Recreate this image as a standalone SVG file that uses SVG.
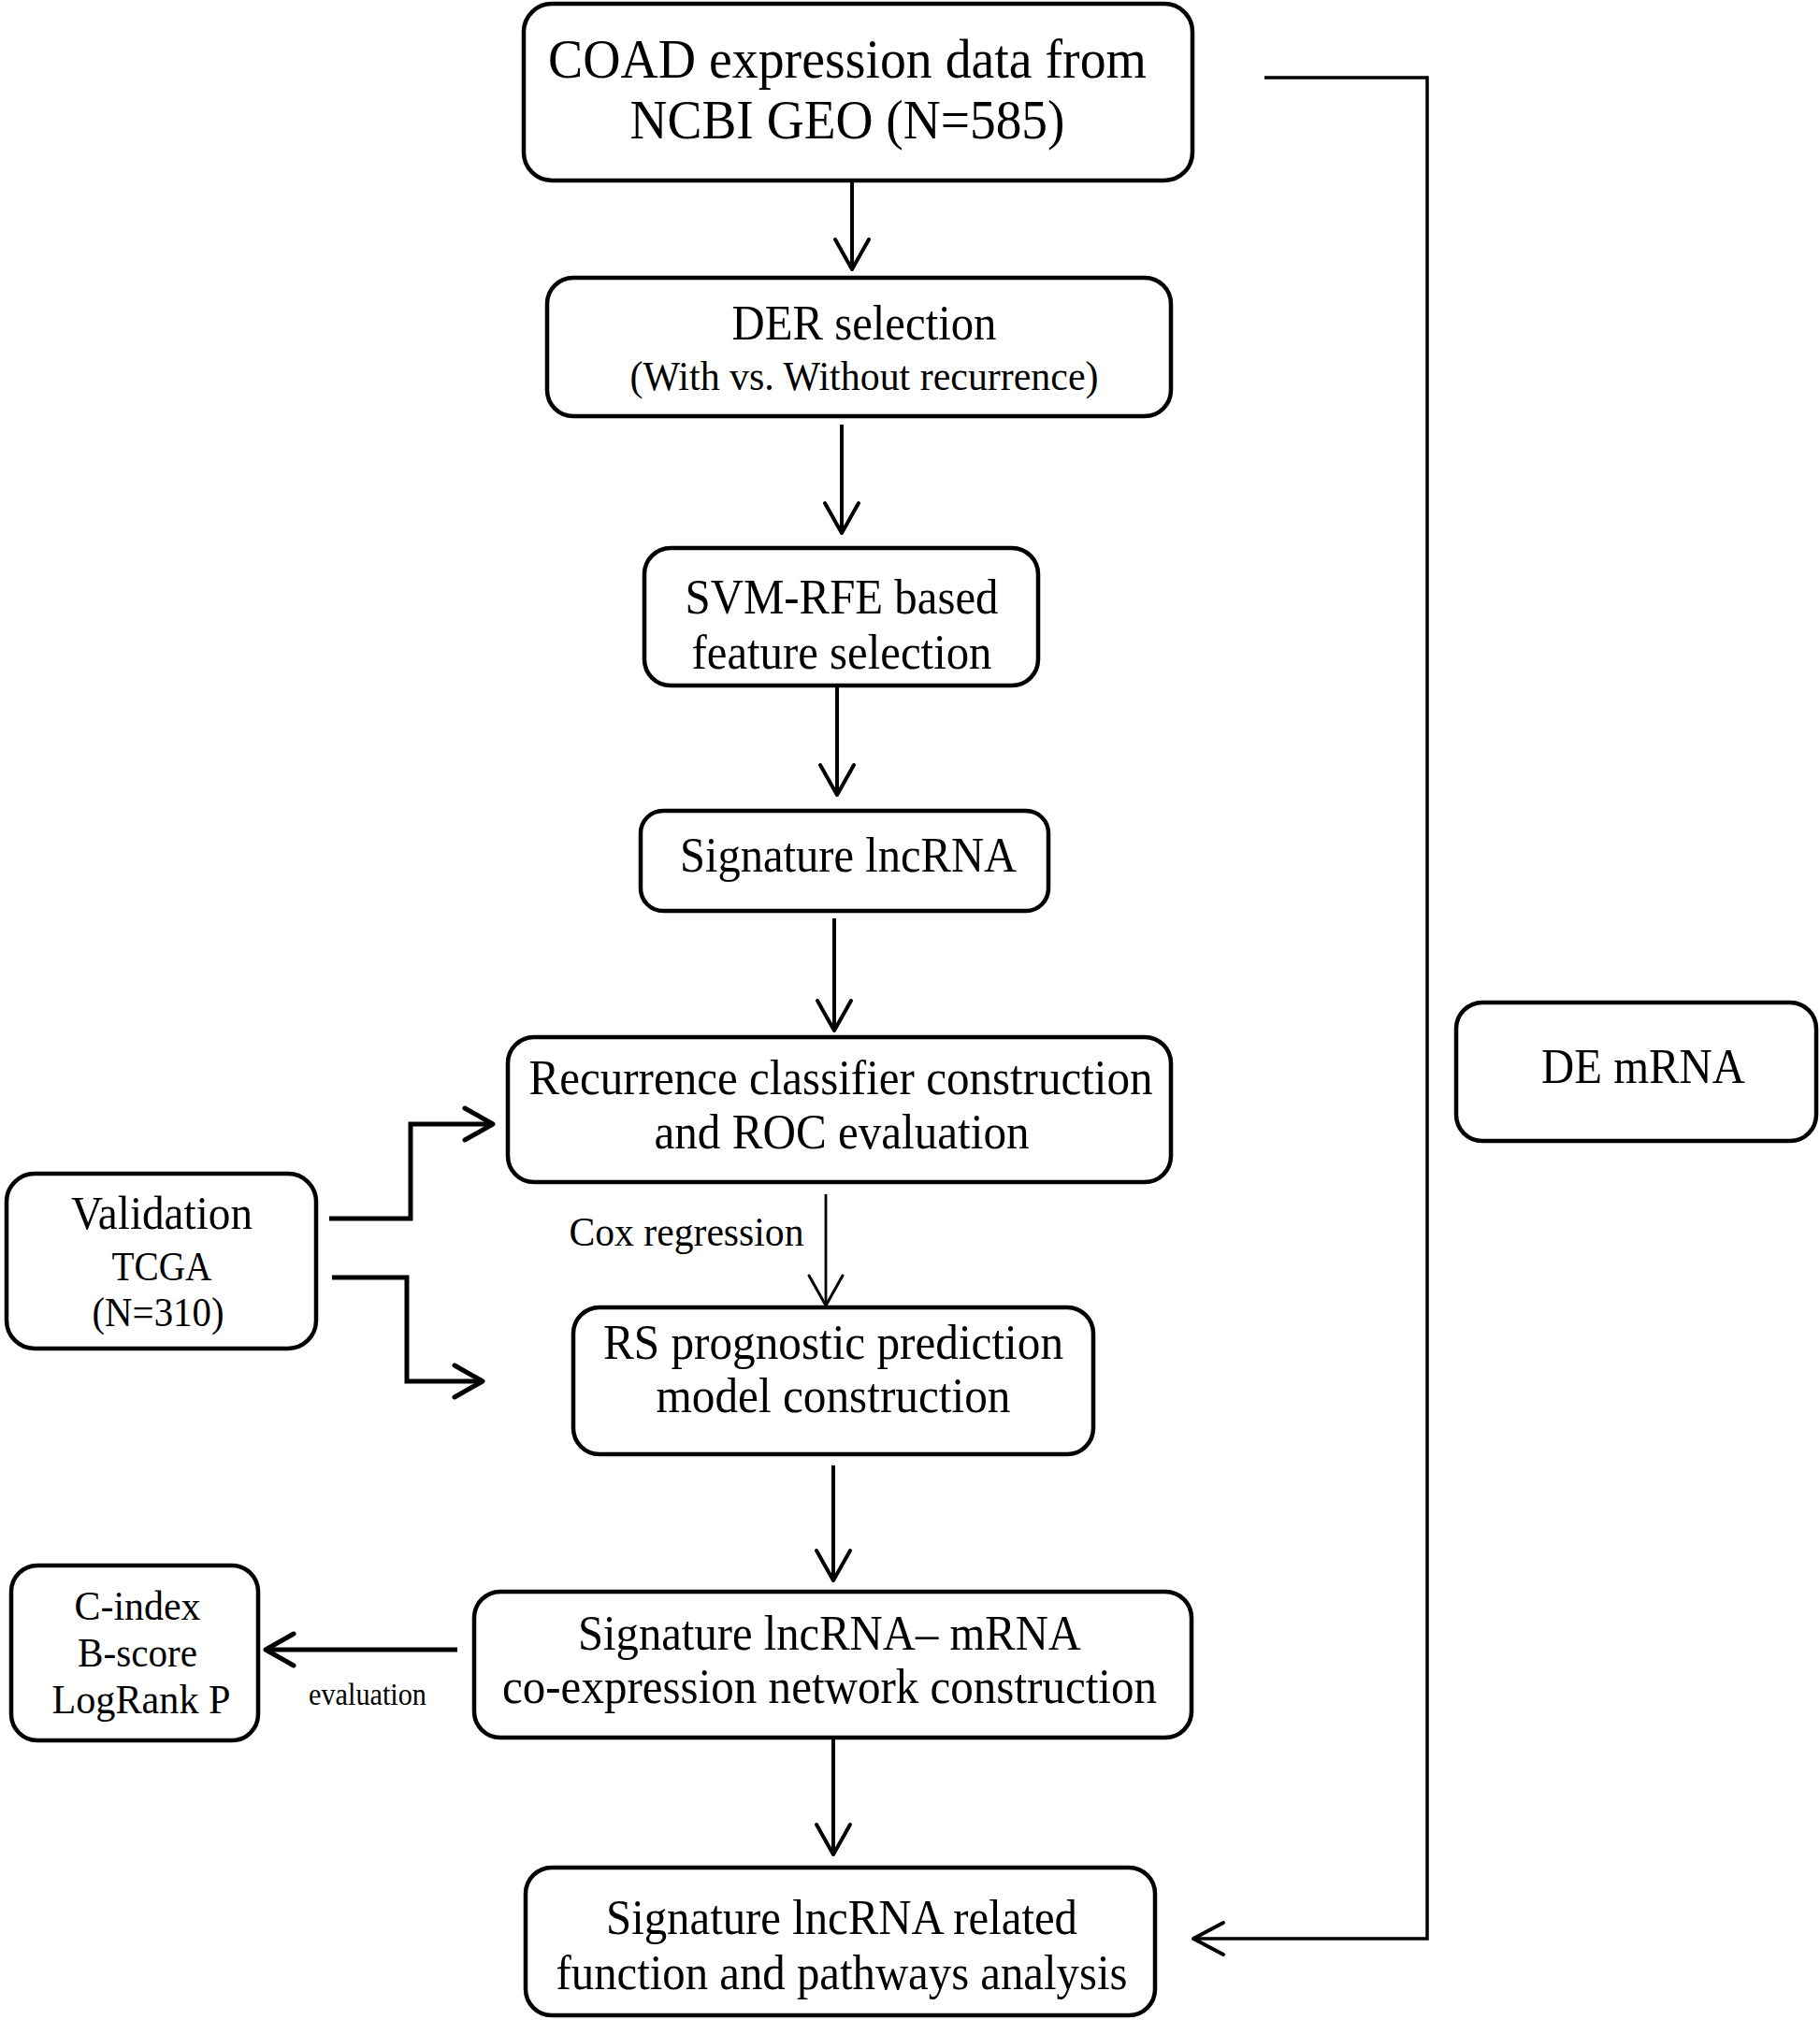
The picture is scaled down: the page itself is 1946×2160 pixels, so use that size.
<svg xmlns="http://www.w3.org/2000/svg" width="1946" height="2160" viewBox="0 0 1946 2160">
<style>
.box{fill:#fff;stroke:#000;stroke-width:4.5}
text{font-family:"Liberation Serif","Times New Roman",serif;fill:#000;text-anchor:middle}
.m{font-size:53px}
.c{fill:none;stroke:#000;stroke-width:4}
.t{fill:none;stroke:#000;stroke-width:2.8}
.h{fill:none;stroke:#000;stroke-width:4;stroke-linecap:round;stroke-linejoin:round}
</style>
<rect width="1946" height="2160" fill="#fff"/>
<g id="connectors">
<line class="c" x1="911" y1="193" x2="911" y2="288"/><polyline class="h" points="893,256 911,288 929,256"/>
<line class="c" x1="900" y1="454" x2="900" y2="570"/><polyline class="h" points="882,538 900,570 918,538"/>
<line class="c" x1="895" y1="733" x2="895" y2="850"/><polyline class="h" points="877,818 895,850 913,818"/>
<line class="c" x1="892" y1="982" x2="892" y2="1102"/><polyline class="h" points="874,1070 892,1102 910,1070"/>
<line class="t" x1="883" y1="1277" x2="883" y2="1396"/><polyline class="h" style="stroke-width:3" points="865,1364 883,1396 901,1364"/>
<line class="c" x1="891" y1="1567" x2="891" y2="1690"/><polyline class="h" points="873,1658 891,1690 909,1658"/>
<line class="c" x1="891" y1="1858" x2="891" y2="1983"/><polyline class="h" points="873,1951 891,1983 909,1951"/>
<polyline class="c" style="stroke-width:5" points="352,1303 439,1303 439,1202 527,1202"/><polyline class="h" style="stroke-width:5" points="497,1185 527,1202 497,1219"/>
<polyline class="c" style="stroke-width:5" points="355,1366 435,1366 435,1477 516,1477"/><polyline class="h" style="stroke-width:5" points="486,1460 516,1477 486,1494"/>
<line class="c" style="stroke-width:5" x1="489" y1="1764" x2="284" y2="1764"/><polyline class="h" style="stroke-width:5" points="314,1747 284,1764 314,1781"/>
<polyline class="c" style="stroke-width:3.5" points="1352,83 1526,83 1526,2073 1276,2073"/><polyline class="h" points="1308,2056 1276,2073 1308,2090"/>
<text x="734" y="1332" style="font-size:45px" textLength="251" lengthAdjust="spacingAndGlyphs">Cox regression</text>
<text x="393" y="1823" style="font-size:33px" textLength="126" lengthAdjust="spacingAndGlyphs">evaluation</text>
</g>
<g id="n1"><rect class="box" x="560" y="4" width="715" height="189" rx="30"/>
<text x="906" y="83" style="font-size:60px" textLength="640" lengthAdjust="spacingAndGlyphs">COAD expression data from</text>
<text x="906" y="148" style="font-size:60px" textLength="465" lengthAdjust="spacingAndGlyphs">NCBI GEO (N=585)</text></g>
<g id="n2"><rect class="box" x="585" y="297" width="667" height="148" rx="28"/>
<text class="m" x="924" y="363" textLength="283" lengthAdjust="spacingAndGlyphs">DER selection</text>
<text x="924" y="417" style="font-size:45px" textLength="501" lengthAdjust="spacingAndGlyphs">(With vs. Without recurrence)</text></g>
<g id="n3"><rect class="box" x="689" y="586" width="421" height="147" rx="28"/>
<text class="m" x="900" y="656" textLength="335" lengthAdjust="spacingAndGlyphs">SVM-RFE based</text>
<text class="m" x="900" y="715" textLength="321" lengthAdjust="spacingAndGlyphs">feature selection</text></g>
<g id="n4"><rect class="box" x="685" y="867" width="436" height="107" rx="24"/>
<text class="m" x="907" y="932" textLength="360" lengthAdjust="spacingAndGlyphs">Signature lncRNA</text></g>
<g id="n5"><rect class="box" x="543" y="1109" width="709" height="155" rx="28"/>
<text class="m" x="899" y="1170" textLength="667" lengthAdjust="spacingAndGlyphs">Recurrence classifier construction</text>
<text class="m" x="900" y="1228" textLength="401" lengthAdjust="spacingAndGlyphs">and ROC evaluation</text></g>
<g id="n6"><rect class="box" x="613" y="1398" width="556" height="157" rx="28"/>
<text class="m" x="891" y="1453" textLength="492" lengthAdjust="spacingAndGlyphs">RS prognostic prediction</text>
<text class="m" x="891" y="1510" textLength="379" lengthAdjust="spacingAndGlyphs">model construction</text></g>
<g id="n7"><rect class="box" x="507" y="1702" width="767" height="156" rx="28"/>
<text class="m" x="887" y="1764" textLength="538" lengthAdjust="spacingAndGlyphs">Signature lncRNA– mRNA</text>
<text class="m" x="887" y="1821" textLength="700" lengthAdjust="spacingAndGlyphs">co-expression network construction</text></g>
<g id="n8"><rect class="box" x="562" y="1997" width="673" height="158" rx="28"/>
<text class="m" x="900" y="2068" textLength="504" lengthAdjust="spacingAndGlyphs">Signature lncRNA related</text>
<text class="m" x="900" y="2127" textLength="611" lengthAdjust="spacingAndGlyphs">function and pathways analysis</text></g>
<g id="validation"><rect class="box" x="7" y="1255" width="331" height="187" rx="30"/>
<text x="173" y="1314" style="font-size:50px" textLength="194" lengthAdjust="spacingAndGlyphs">Validation</text>
<text x="173" y="1369" style="font-size:45px" textLength="107" lengthAdjust="spacingAndGlyphs">TCGA</text>
<text x="169" y="1418" style="font-size:45px" textLength="141" lengthAdjust="spacingAndGlyphs">(N=310)</text></g>
<g id="metrics"><rect class="box" x="12" y="1674" width="264" height="187" rx="28"/>
<text x="147" y="1732" style="font-size:45px" textLength="135" lengthAdjust="spacingAndGlyphs">C-index</text>
<text x="147" y="1782" style="font-size:45px" textLength="128" lengthAdjust="spacingAndGlyphs">B-score</text>
<text x="151" y="1832" style="font-size:45px" textLength="191" lengthAdjust="spacingAndGlyphs">LogRank P</text></g>
<g id="demrna"><rect class="box" x="1557" y="1072" width="385" height="148" rx="28"/>
<text class="m" x="1757" y="1158" textLength="218" lengthAdjust="spacingAndGlyphs">DE mRNA</text></g>
</svg>
